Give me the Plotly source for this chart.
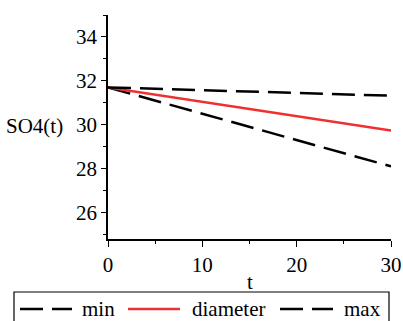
import plotly.graph_objects as go

# ---- data ----
t = [0, 5, 10, 15, 20, 25, 30]
so4_min = [31.7, 31.1, 30.5, 29.9, 29.3, 28.7, 28.1]
so4_diameter = [31.7, 31.37, 31.05, 30.72, 30.39, 30.07, 29.74]
so4_max = [31.7, 31.64, 31.57, 31.51, 31.45, 31.38, 31.32]

names = ["min", "diameter", "max"]
series = [so4_min, so4_diameter, so4_max]
colors = ["black", "#f03030", "black"]
dashes = ["23px,9px", "solid", "23px,9px"]

x_ticks = [0, 10, 20, 30]
y_ticks = [26, 28, 30, 32, 34]

FONT = "Liberation Serif, Times New Roman, serif"
FS = 21

fig = go.Figure()
for name, ys, c, d in zip(names, series, colors, dashes):
    fig.add_trace(go.Scatter(x=t, y=ys, mode="lines", name=name,
                             line=dict(color=c, width=2.5, dash=d),
                             showlegend=False))

W, H = 403, 321
ml, mr, mt, mb = 108, 12, 15, 82
pw, ph = W - ml - mr, H - mt - mb


def px2paper_x(px):
    return (px - ml) / pw


def px2paper_y(py):
    return (H - mb - py) / ph


fig.update_layout(
    template="none",
    width=W, height=H,
    margin=dict(l=ml, r=mr, t=mt, b=mb, pad=0, autoexpand=False),
    paper_bgcolor="white", plot_bgcolor="white",
    font=dict(family=FONT, size=FS, color="black"),
    xaxis=dict(range=[0, 30], tickvals=x_ticks, ticks="outside", ticklen=6,
               tickwidth=1.2, tickcolor="black", showline=True, linecolor="black",
               linewidth=1.5, showgrid=False, zeroline=False, automargin=False,
               tickfont=dict(family=FONT, size=FS, color="black"),
               minor=dict(dtick=5, tick0=0, ticks="outside", ticklen=3,
                          tickcolor="black", showgrid=False)),
    yaxis=dict(range=[24.79, 35], tickvals=y_ticks, ticks="outside", ticklen=5,
               tickwidth=1.2, tickcolor="black", showline=True, linecolor="black",
               linewidth=1.5, showgrid=False, zeroline=False, automargin=False,
               tickfont=dict(family=FONT, size=FS, color="black"),
               minor=dict(dtick=1, tick0=0, ticks="outside", ticklen=3,
                          tickcolor="black", showgrid=False)),
)

# axis titles
fig.add_annotation(text="t", xref="paper", yref="paper",
                   x=px2paper_x(250), y=px2paper_y(282), showarrow=False,
                   xanchor="center", yanchor="middle", font=dict(family=FONT, size=FS))
fig.add_annotation(text="SO4(t)", xref="paper", yref="paper",
                   x=px2paper_x(4), y=px2paper_y(126), showarrow=False,
                   xanchor="left", yanchor="middle", font=dict(family=FONT, size=FS))

# legend box (drawn manually)
fig.add_shape(type="rect", xref="paper", yref="paper",
              x0=px2paper_x(14), x1=px2paper_x(389),
              y0=px2paper_y(292), y1=px2paper_y(335),
              line=dict(color="black", width=1.2), fillcolor="rgba(0,0,0,0)")
sample_x = [(20, 72), (128, 180), (280, 333)]
text_x = [80, 190, 342]
ly = 309
for (a, b), tx, name, c, d in zip(sample_x, text_x, names, colors, dashes):
    fig.add_shape(type="line", xref="paper", yref="paper",
                  x0=px2paper_x(a), x1=px2paper_x(b),
                  y0=px2paper_y(ly), y1=px2paper_y(ly),
                  line=dict(color=c, width=2.5, dash=d))
    fig.add_annotation(text=name, xref="paper", yref="paper",
                       x=px2paper_x(tx), y=px2paper_y(ly), showarrow=False,
                       xanchor="left", yanchor="middle",
                       font=dict(family=FONT, size=FS))

fig.write_html("out.html")
